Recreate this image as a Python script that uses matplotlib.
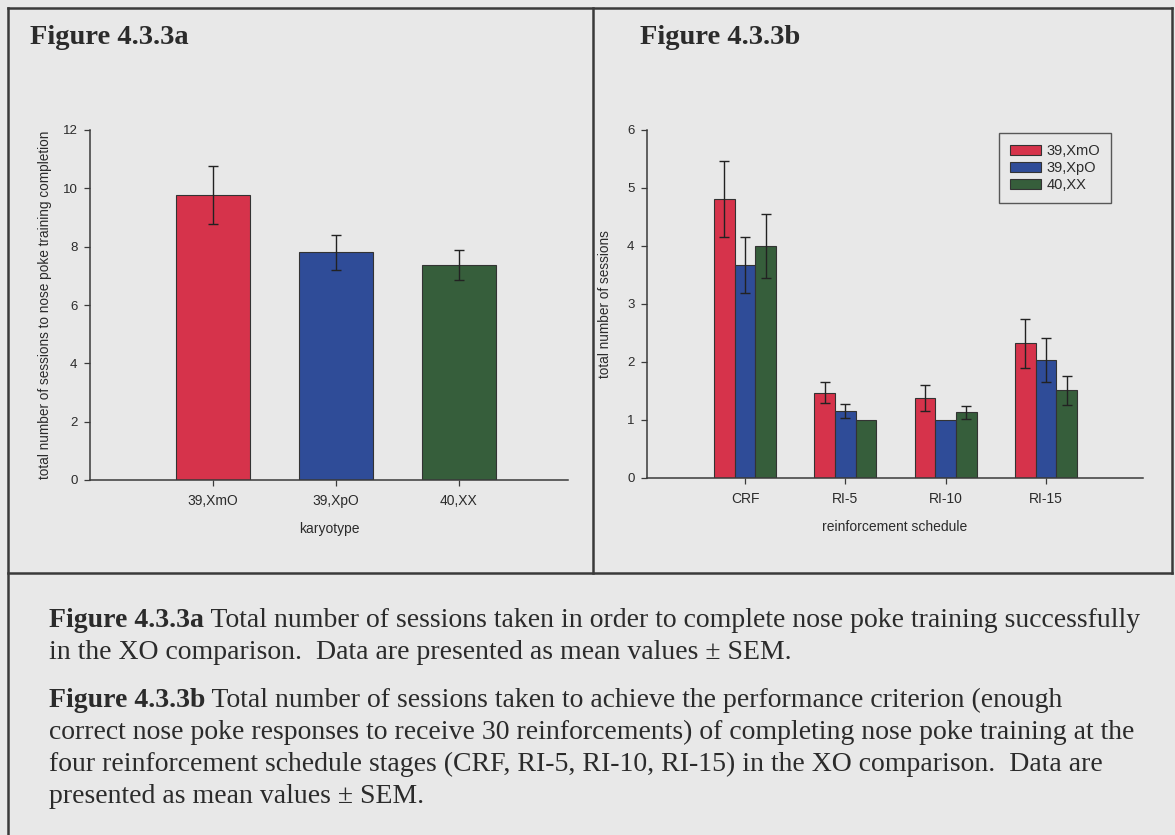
import matplotlib
matplotlib.use('Agg')
import matplotlib.pyplot as plt
from matplotlib.lines import Line2D
import numpy as np

# Figure 4.3.3a: sessions to complete nose poke training, by karyotype
karyotypes = ['39,XmO', '39,XpO', '40,XX']
total_mean = [9.77, 7.81, 7.37]
total_sem = [0.98, 0.60, 0.52]

# Figure 4.3.3b: sessions per reinforcement schedule stage
schedules = ['CRF', 'RI-5', 'RI-10', 'RI-15']
xmo_mean = [4.81, 1.47, 1.38, 2.32]
xmo_sem = [0.65, 0.18, 0.22, 0.42]
xpo_mean = [3.67, 1.16, 1.00, 2.03]
xpo_sem = [0.48, 0.12, 0.0, 0.38]
xx_mean = [4.00, 1.00, 1.13, 1.51]
xx_sem = [0.55, 0.0, 0.12, 0.25]

colors = ['#d6334b', '#2f4c98', '#365e3b']
bg = '#e8e8e8'
ink = '#2b2b2b'
axis_grey = '#3a3a3a'

W, H = 1175, 835
fig = plt.figure(figsize=(W / 100, H / 100), dpi=100, facecolor=bg)


def px(x, y):
    # pixel position (from top-left) -> figure fraction
    return x / W, 1 - y / H


def style_axes(ax):
    ax.set_facecolor('none')
    for side in ['top', 'right']:
        ax.spines[side].set_visible(False)
    for side in ['left', 'bottom']:
        ax.spines[side].set_color(axis_grey)
        ax.spines[side].set_linewidth(1.1)
    ax.tick_params(axis='both', colors=axis_grey, labelcolor=ink, length=4, width=0.9)
    ax.tick_params(axis='y', labelsize=9.5, pad=5)
    ax.tick_params(axis='x', labelsize=10, pad=6)


def errbars(ax, x, mean, sem):
    x = np.asarray(x, float)
    mean = np.asarray(mean, float)
    sem = np.asarray(sem, float)
    keep = sem > 0
    ax.errorbar(x[keep], mean[keep], yerr=sem[keep], fmt='none', ecolor='#222222',
                elinewidth=1.0, capsize=3.5, capthick=1.0, zorder=3)


plt.rcParams['font.family'] = ['Liberation Sans', 'DejaVu Sans']

# left panel
x0, y0 = px(90, 480)
x1, y1 = px(568, 130)
axa = fig.add_axes([x0, y0, x1 - x0, y1 - y0])
style_axes(axa)
xa = np.arange(len(karyotypes))
axa.bar(xa, total_mean, width=0.6, color=colors, edgecolor='#333333', linewidth=0.8, zorder=2)
errbars(axa, xa, total_mean, total_sem)
axa.set_xlim(-1.0, 2.89)
axa.set_ylim(0, 12)
axa.set_yticks(range(0, 13, 2))
axa.set_xticks(xa)
axa.set_xticklabels(karyotypes)
axa.set_xlabel('karyotype', fontsize=10, color=ink, labelpad=10)
axa.set_ylabel('total number of sessions to nose poke training completion',
               fontsize=9.8, color=ink, labelpad=8)

# right panel
x0, y0 = px(647, 478)
x1, y1 = px(1143, 130)
axb = fig.add_axes([x0, y0, x1 - x0, y1 - y0])
style_axes(axb)
xb = np.arange(len(schedules))
w = 0.205
series = [('39,XmO', xmo_mean, xmo_sem), ('39,XpO', xpo_mean, xpo_sem), ('40,XX', xx_mean, xx_sem)]
for i, (name, mean, sem) in enumerate(series):
    pos = xb + (i - 1) * w
    axb.bar(pos, mean, width=w, color=colors[i], edgecolor='#333333', linewidth=0.8,
            zorder=2, label=name)
    errbars(axb, pos, mean, sem)
axb.set_xlim(-0.977, 3.967)
axb.set_ylim(0, 6)
axb.set_yticks(range(0, 7))
axb.set_xticks(xb)
axb.set_xticklabels(schedules)
axb.set_xlabel('reinforcement schedule', fontsize=10, color=ink, labelpad=10)
axb.set_ylabel('total number of sessions', fontsize=9.8, color=ink, labelpad=11)
leg = axb.legend(loc='upper left', bbox_to_anchor=(0.71, 0.991), fontsize=10.5,
                 frameon=True, fancybox=False, edgecolor='#333333', borderpad=0.75,
                 handlelength=2.1, handleheight=0.65, handletextpad=0.4, labelspacing=0.2,
                 borderaxespad=0)
leg.get_frame().set_facecolor('none')
leg.get_frame().set_linewidth(1.0)
for t in leg.get_texts():
    t.set_color(ink)

# panel borders
frame = [((8, 8), (1172, 8)), ((8, 8), (8, 835)), ((593, 8), (593, 573)),
         ((8, 573), (1172, 573)), ((1172, 8), (1172, 573))]
for (ax_, ay_), (bx_, by_) in frame:
    p, q = px(ax_, ay_), px(bx_, by_)
    fig.add_artist(Line2D([p[0], q[0]], [p[1], q[1]], color='#3a3a3a', lw=1.8))

serif = ['Liberation Serif', 'DejaVu Serif']
fig.text(*px(30, 44), 'Figure 4.3.3a', family=serif, weight='bold', fontsize=20.5,
         color=ink, va='baseline')
fig.text(*px(640, 44), 'Figure 4.3.3b', family=serif, weight='bold', fontsize=20.5,
         color=ink, va='baseline')

# caption below the panels
cap_size = 20
caption = [
    (627, 'Figure 4.3.3a', ' Total number of sessions taken in order to complete nose poke training successfully'),
    (659, '', 'in the XO comparison.  Data are presented as mean values \u00b1 SEM.'),
    (707, 'Figure 4.3.3b', ' Total number of sessions taken to achieve the performance criterion (enough'),
    (739, '', 'correct nose poke responses to receive 30 reinforcements) of completing nose poke training at the'),
    (771, '', 'four reinforcement schedule stages (CRF, RI-5, RI-10, RI-15) in the XO comparison.  Data are'),
    (803, '', 'presented as mean values \u00b1 SEM.'),
]
for y, bold, rest in caption:
    fx, fy = px(49, y)
    if bold:
        b = fig.text(fx, fy, bold, family=serif, weight='bold', fontsize=cap_size,
                     color=ink, va='baseline')
        # regular text continues right after the bold lead-in, on the same baseline
        plt.annotate(rest, xy=(1, fy), xycoords=(b, 'figure fraction'), family=serif,
                     fontsize=cap_size, color=ink, va='baseline', ha='left',
                     annotation_clip=False)
    else:
        fig.text(fx, fy, rest, family=serif, fontsize=cap_size, color=ink, va='baseline')

fig.savefig('out.png', dpi=100, facecolor=bg)
